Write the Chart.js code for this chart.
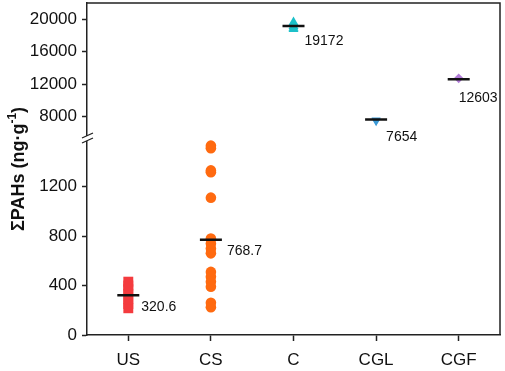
<!DOCTYPE html>
<html>
<head>
<meta charset="utf-8">
<script src="https://cdn.jsdelivr.net/npm/chart.js@4.4.1/dist/chart.umd.min.js"></script>
<style>
    html, body { margin: 0; padding: 0; background: #fff; }
    #chartWrap { width: 505px; height: 371px; }
</style>
</head>
<body>
<div id="chartWrap"><canvas id="pahChart"></canvas></div>
<script>
const groups = ["US", "CS", "C", "CGL", "CGF"];

// sample values (ng/g)
const usValues = [216, 250, 290, 330, 370, 400, 431];
const csValues = [1530, 1510, 1330, 1315, 1110, 780, 740, 700, 660, 510, 470, 430, 390, 260, 225];
const cValues = [19620, 19400, 19150, 18950, 18800];
const cglValues = [7560, 7470];
const cgfValues = [12720];

// mean values printed next to the black bars
const meanValues = [320.6, 768.7, 19172, 7654, 12603];
const meanLabels = ["320.6", "768.7", "19172", "7654", "12603"];

const lowerTicks = [0, 400, 800, 1200];
const upperTicks = [8000, 12000, 16000, 20000];

// which part of the broken axis each group sits on
const groupAxis = ["yLow", "yLow", "yHigh", "yHigh", "yHigh"];
// where the mean text goes, relative to the bar centre
const labelOffsets = [[13, 12], [16, 11], [11, 15], [10, 18], [0, 19]];

const axisColor = "#222";
const fontFamily = "Arial, 'Liberation Sans', sans-serif";

function points(group, values) {
    return values.map(function (v) {
        return { x: group, y: v };
    });
}

function meanPoints(axisId) {
    const out = [];
    groups.forEach(function (g, i) {
        if (groupAxis[i] === axisId) {
            out.push({ x: g, y: meanValues[i] });
        }
    });
    return out;
}

const markerBase = {
    pointBorderWidth: 0,
    pointHoverRadius: 0,
    showLine: false,
};

const datasets = [
    {
        label: "mean low",
        data: meanPoints("yLow"),
        yAxisID: "yLow",
        pointStyle: "line",
        pointRadius: 11,
        pointBorderColor: "#111",
        pointBorderWidth: 2.5,
        showLine: false,
    },
    {
        label: "mean high",
        data: meanPoints("yHigh"),
        yAxisID: "yHigh",
        pointStyle: "line",
        pointRadius: 11,
        pointBorderColor: "#111",
        pointBorderWidth: 2.5,
        showLine: false,
    },
    Object.assign({}, markerBase, {
        label: "US",
        data: points("US", usValues),
        yAxisID: "yLow",
        pointStyle: "rect",
        pointRadius: 7,
        pointBackgroundColor: "#f43b3e",
    }),
    Object.assign({}, markerBase, {
        label: "CS",
        data: points("CS", csValues),
        yAxisID: "yLow",
        pointStyle: "circle",
        pointRadius: 5.3,
        pointBackgroundColor: "#ff6a10",
    }),
    Object.assign({}, markerBase, {
        label: "C",
        data: points("C", cValues),
        yAxisID: "yHigh",
        pointStyle: "triangle",
        pointRadius: 5.8,
        pointBackgroundColor: "#1cc0c9",
    }),
    Object.assign({}, markerBase, {
        label: "CGL",
        data: points("CGL", cglValues),
        yAxisID: "yHigh",
        pointStyle: "triangle",
        pointRotation: 180,
        pointRadius: 5.3,
        pointBackgroundColor: "#3c9ad6",
    }),
    Object.assign({}, markerBase, {
        label: "CGF",
        data: points("CGF", cgfValues),
        yAxisID: "yHigh",
        pointStyle: "rectRot",
        pointRadius: 4.8,
        pointBackgroundColor: "#b27cd8",
    }),
];

function yScale(min, max, tickValues, weight) {
    return {
        type: "linear",
        position: "left",
        stack: "pah",
        stackWeight: weight,
        min: min,
        max: max,
        afterBuildTicks: function (scale) {
            scale.ticks = tickValues.map(function (v) {
                return { value: v };
            });
        },
        afterFit: function (scale) {
            scale.width = 87;
            scale.paddingTop = 0;
            scale.paddingBottom = 0;
        },
        border: { display: true, color: axisColor, width: 1.5 },
        grid: {
            display: true,
            drawOnChartArea: false,
            drawTicks: true,
            tickLength: 5,
            tickWidth: 1.5,
            color: axisColor,
        },
        ticks: {
            color: "#111",
            padding: 5,
            font: { family: fontFamily, size: 17 },
            callback: function (value) {
                return String(value);
            },
        },
    };
}

const framePlugin = {
    id: "frameAndLabels",
    afterDraw: function (chart) {
        const ctx = chart.ctx;
        const area = chart.chartArea;
        const low = chart.scales.yLow;
        const high = chart.scales.yHigh;
        const x = chart.scales.x;

        ctx.save();
        // box around the plot
        ctx.strokeStyle = axisColor;
        ctx.lineWidth = 1.5;
        ctx.beginPath();
        ctx.moveTo(area.left, area.top);
        ctx.lineTo(area.right, area.top);
        ctx.lineTo(area.right, area.bottom);
        ctx.stroke();

        // axis break marks
        const by = low.top;
        ctx.fillStyle = "#fff";
        ctx.beginPath();
        ctx.moveTo(area.left - 5, by + 1);
        ctx.lineTo(area.left + 6, by - 4);
        ctx.lineTo(area.left + 6, by + 1);
        ctx.lineTo(area.left - 5, by + 6);
        ctx.closePath();
        ctx.fill();
        ctx.lineWidth = 1.3;
        ctx.beginPath();
        ctx.moveTo(area.left - 5, by + 1);
        ctx.lineTo(area.left + 6, by - 4);
        ctx.moveTo(area.left - 5, by + 6);
        ctx.lineTo(area.left + 6, by + 1);
        ctx.stroke();

        // mean value labels
        ctx.fillStyle = "#111";
        ctx.font = "14px " + fontFamily;
        ctx.textAlign = "left";
        ctx.textBaseline = "middle";
        groups.forEach(function (g, i) {
            const sc = groupAxis[i] === "yLow" ? low : high;
            const px = x.getPixelForValue(i);
            const py = sc.getPixelForValue(meanValues[i]);
            ctx.fillText(meanLabels[i], px + labelOffsets[i][0], py + labelOffsets[i][1]);
        });

        // y axis title with superscript
        ctx.translate(19, (area.top + area.bottom) / 2);
        ctx.rotate(-Math.PI / 2);
        ctx.textBaseline = "middle";
        const main = "\u03A3PAHs (ng\u00B7g";
        const sup = "-1";
        const tail = ")";
        ctx.font = "bold 18px " + fontFamily;
        const wMain = ctx.measureText(main).width;
        const wTail = ctx.measureText(tail).width;
        ctx.font = "bold 12px " + fontFamily;
        const wSup = ctx.measureText(sup).width;
        let tx = -(wMain + wSup + wTail) / 2;
        ctx.font = "bold 18px " + fontFamily;
        ctx.fillText(main, tx, 0);
        tx += wMain;
        ctx.font = "bold 12px " + fontFamily;
        ctx.fillText(sup, tx, -6);
        tx += wSup;
        ctx.font = "bold 18px " + fontFamily;
        ctx.fillText(tail, tx, 0);
        ctx.restore();
    },
};

const ctx = document.getElementById("pahChart").getContext("2d");
new Chart(ctx, {
    type: "scatter",
    data: { datasets: datasets },
    options: {
        responsive: true,
        maintainAspectRatio: false,
        animation: false,
        layout: {
            autoPadding: false,
            padding: { top: 3, right: 5, bottom: 0, left: 0 },
        },
        plugins: {
            legend: { display: false },
            tooltip: { enabled: false },
        },
        scales: {
            x: {
                type: "category",
                labels: groups,
                offset: true,
                afterFit: function (scale) {
                    scale.height = 36;
                    scale.paddingLeft = 0;
                    scale.paddingRight = 0;
                },
                border: { display: true, color: axisColor, width: 1.5 },
                grid: {
                    display: true,
                    drawOnChartArea: false,
                    drawTicks: true,
                    tickLength: 6,
                    tickWidth: 1.5,
                    color: axisColor,
                    offset: false,
                },
                ticks: {
                    color: "#111",
                    padding: 9,
                    font: { family: fontFamily, size: 17 },
                },
            },
            yLow: yScale(0, 1600, lowerTicks, 198),
            yHigh: yScale(5500, 22000, upperTicks, 134),
        },
    },
    plugins: [framePlugin],
});
</script>
</body>
</html>
